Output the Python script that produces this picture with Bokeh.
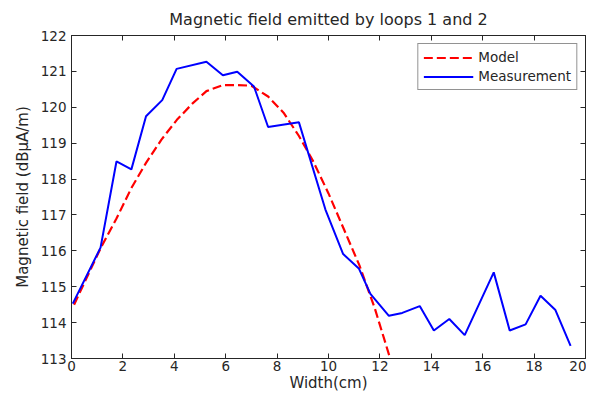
from bokeh.plotting import figure
from bokeh.models import FixedTicker, LinearAxis, Range1d, Legend, LegendItem
from bokeh.embed import file_html
from bokeh.resources import INLINE

# Data
meas_x = [0.05, 1.13, 1.75, 2.33, 2.9, 3.53, 4.09, 5.25, 5.89, 6.45, 7.1, 7.65,
          8.85, 9.88, 10.57, 11.18, 11.63, 12.35, 12.87, 13.55, 14.1, 14.7, 15.3,
          16.43, 17.05, 17.67, 18.25, 18.83, 19.42]
meas_y = [114.53, 116.09, 118.49, 118.27, 119.75, 120.2, 121.07, 121.27, 120.89,
          120.99, 120.58, 119.45, 119.58, 117.15, 115.91, 115.51, 114.8, 114.19,
          114.27, 114.46, 113.78, 114.1, 113.65, 115.4, 113.78, 113.95, 114.75,
          114.35, 113.35]

model_x = [0.1, 1.15, 1.75, 2.33, 2.9, 3.5, 4.1, 4.7, 5.25, 5.9, 6.45, 7.0, 7.65,
           8.25, 8.85, 9.4, 10.0, 10.6, 11.2, 11.8, 12.4, 13.0]
model_y = [114.5, 116.1, 116.9, 117.75, 118.45, 119.1, 119.65, 120.1, 120.45,
           120.62, 120.62, 120.6, 120.3, 119.85, 119.2, 118.5, 117.6, 116.6,
           115.6, 114.4, 113.0, 111.6]

x_ticks = [0, 2, 4, 6, 8, 10, 12, 14, 16, 18, 20]
y_ticks = [113, 114, 115, 116, 117, 118, 119, 120, 121, 122]

FONT = "DejaVu Sans"
TXT = "#262626"
AX = "#262626"

p = figure(width=586, height=394, output_backend="svg", toolbar_location=None,
           x_range=Range1d(0, 20), y_range=Range1d(113, 122),
           title="Magnetic field emitted by loops 1 and 2",
           min_border_left=71, min_border_right=1, min_border_top=35,
           min_border_bottom=20)

p.title.align = "center"
p.title.text_font = FONT
p.title.text_font_size = "16px"
p.title.text_font_style = "normal"
p.title.text_color = TXT
p.title.offset = 0
p.title.standoff = 14

p.grid.visible = False
p.outline_line_color = AX
p.outline_line_width = 1

for ax in p.xaxis:
    ax.ticker = FixedTicker(ticks=x_ticks)
    ax.axis_label = "Width(cm)"
    ax.major_label_standoff = 2
    ax.axis_label_standoff = 0
for ax in p.yaxis:
    ax.ticker = FixedTicker(ticks=y_ticks)
    ax.axis_label = "Magnetic field (dB\u03bcA/m)"
    ax.major_label_standoff = 5
    ax.axis_label_standoff = 6

for ax in p.xaxis + p.yaxis:
    ax.major_tick_in = 5
    ax.major_tick_out = 0
    ax.minor_tick_line_color = None
    ax.axis_line_color = AX
    ax.major_tick_line_color = AX
    ax.major_label_text_font = FONT
    ax.major_label_text_font_size = "13.5px"
    ax.major_label_text_color = TXT
    ax.axis_label_text_font = FONT
    ax.axis_label_text_font_size = "15px"
    ax.axis_label_text_font_style = "normal"
    ax.axis_label_text_color = TXT

# mirrored tick marks on top and right (MATLAB box style), no labels
top = LinearAxis(ticker=FixedTicker(ticks=x_ticks))
right = LinearAxis(ticker=FixedTicker(ticks=y_ticks))
for ax in (top, right):
    ax.major_tick_in = 5
    ax.major_tick_out = 0
    ax.minor_tick_line_color = None
    ax.axis_line_color = AX
    ax.major_tick_line_color = AX
    ax.major_label_text_color = None
    ax.major_label_text_font_size = "1px"
    ax.major_label_standoff = 0
p.add_layout(top, "above")
p.add_layout(right, "right")

r_model = p.line(model_x, model_y, line_color="red", line_width=2.2,
                 line_dash="9 4")
r_meas = p.line(meas_x, meas_y, line_color="blue", line_width=2)

legend = Legend(items=[LegendItem(label="Model", renderers=[r_model]),
                       LegendItem(label="Measurement", renderers=[r_meas])],
                location="top_right")
legend.label_text_font = FONT
legend.label_text_font_size = "13.5px"
legend.label_text_color = TXT
legend.glyph_width = 50
legend.glyph_height = 15
legend.label_height = 15
legend.label_standoff = 5
legend.spacing = 3
legend.padding = 5
legend.margin = 8
legend.border_line_color = AX
legend.border_line_width = 1
legend.background_fill_alpha = 1
p.add_layout(legend, "center")

open("out.html", "w").write(file_html(p, INLINE))
